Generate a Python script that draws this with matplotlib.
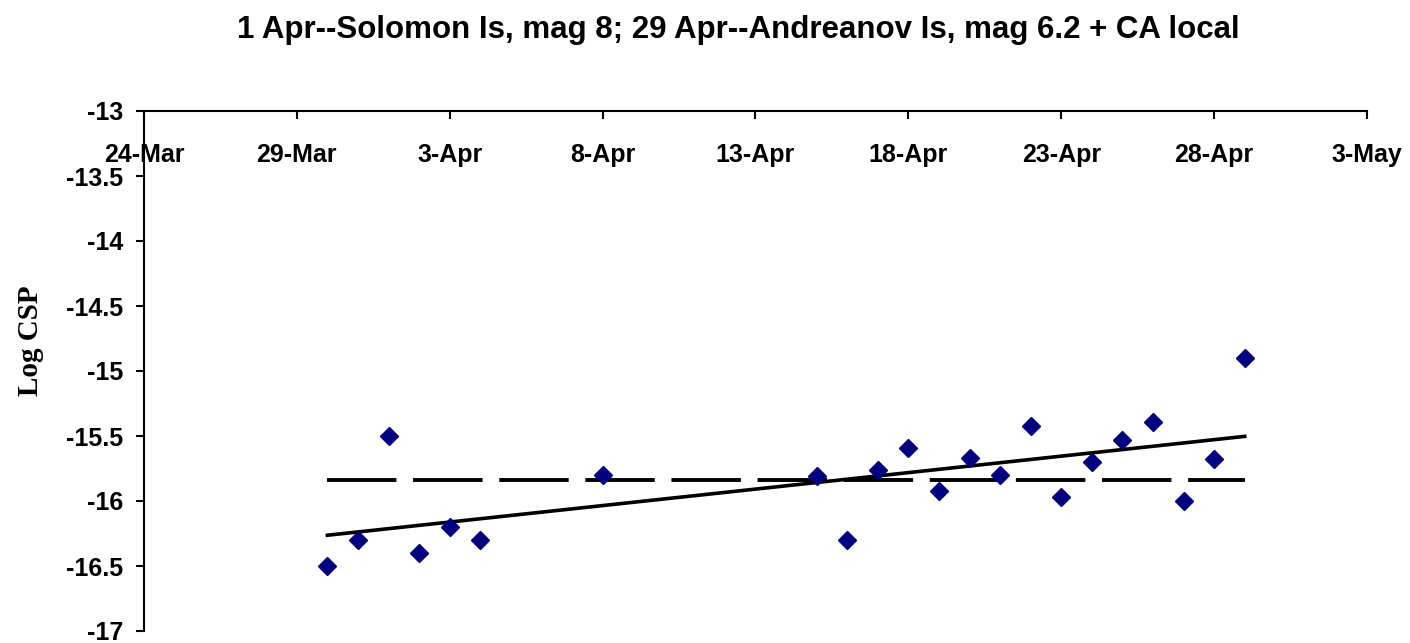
import numpy as np
import pandas as pd
import matplotlib
matplotlib.use("Agg")
import matplotlib.pyplot as plt
import matplotlib.dates as mdates

# Data (year assumed 2007)
dates = ["2007-03-30", "2007-03-31", "2007-04-01", "2007-04-02", "2007-04-03",
         "2007-04-04", "2007-04-08", "2007-04-15", "2007-04-16", "2007-04-17",
         "2007-04-18", "2007-04-19", "2007-04-20", "2007-04-21", "2007-04-22",
         "2007-04-23", "2007-04-24", "2007-04-25", "2007-04-26", "2007-04-27",
         "2007-04-28", "2007-04-29"]
log_csp = [-16.5, -16.3, -15.5, -16.4, -16.2, -16.3, -15.8, -15.81, -16.3, -15.76,
           -15.59, -15.92, -15.67, -15.8, -15.42, -15.97, -15.7, -15.53, -15.39, -16.0,
           -15.68, -14.9]
TITLE = "1 Apr--Solomon Is, mag 8; 29 Apr--Andreanov Is, mag 6.2 + CA local"
y_ticks = [-17, -16.5, -16, -15.5, -15, -14.5, -14, -13.5, -13]
y_tick_labels = ["-17", "-16.5", "-16", "-15.5", "-15", "-14.5", "-14", "-13.5", "-13"]

x = pd.to_datetime(dates)
y = np.array(log_csp)
xnum = mdates.date2num(x)

plt.rcParams['lines.scale_dashes'] = False
fig = plt.figure(figsize=(14.1, 6.43), dpi=100)
ax = fig.add_axes([144 / 1410, 1 - 631 / 643, (1367 - 144) / 1410, (631 - 111) / 643])

# mean level (dashed) and linear trend (solid)
ax.plot([x[0], x[-1]], [y.mean(), y.mean()], color='black', lw=2.8, dashes=(50, 12))
slope, icpt = np.polyfit(xnum, y, 1)
ends = np.array([xnum[0], xnum[-1]])
ax.plot(mdates.num2date(ends), slope * ends + icpt, color='black', lw=2.6)

ax.plot(x, y, linestyle='none', marker='D', markersize=9.5, color='#000080')

# axes styling
ax.set_ylim(-17, -13)
ax.set_yticks(y_ticks)
ax.set_yticklabels(y_tick_labels)
xt = pd.date_range("2007-03-24", "2007-05-03", freq="5D")
ax.set_xlim(xt[0], xt[-1])
ax.set_xticks(xt)
ax.xaxis.set_major_formatter(mdates.DateFormatter('%-d-%b'))

for s in ['top', 'right']:
    ax.spines[s].set_visible(False)
ax.spines['bottom'].set_position(('data', -13))
ax.spines['left'].set_linewidth(1.5)
ax.spines['bottom'].set_linewidth(1.5)
ax.tick_params(axis='y', direction='out', length=6, width=1.5, pad=9)
ax.tick_params(axis='x', direction='out', length=6, width=1.5, pad=17)
for lab in ax.get_xticklabels() + ax.get_yticklabels():
    lab.set_fontfamily('Liberation Sans')
    lab.set_fontweight('bold')
    lab.set_fontsize(18)

fig.text(738 / 1410, 1 - 30 / 643, TITLE, ha='center', va='center',
         fontfamily='Liberation Sans', fontweight='bold', fontsize=22.5)
fig.text(30 / 1410, 1 - 341 / 643, "Log CSP", rotation=90, ha='center', va='center',
         fontfamily='Liberation Serif', fontweight='bold', fontsize=21)

fig.savefig("out.png", dpi=100)
